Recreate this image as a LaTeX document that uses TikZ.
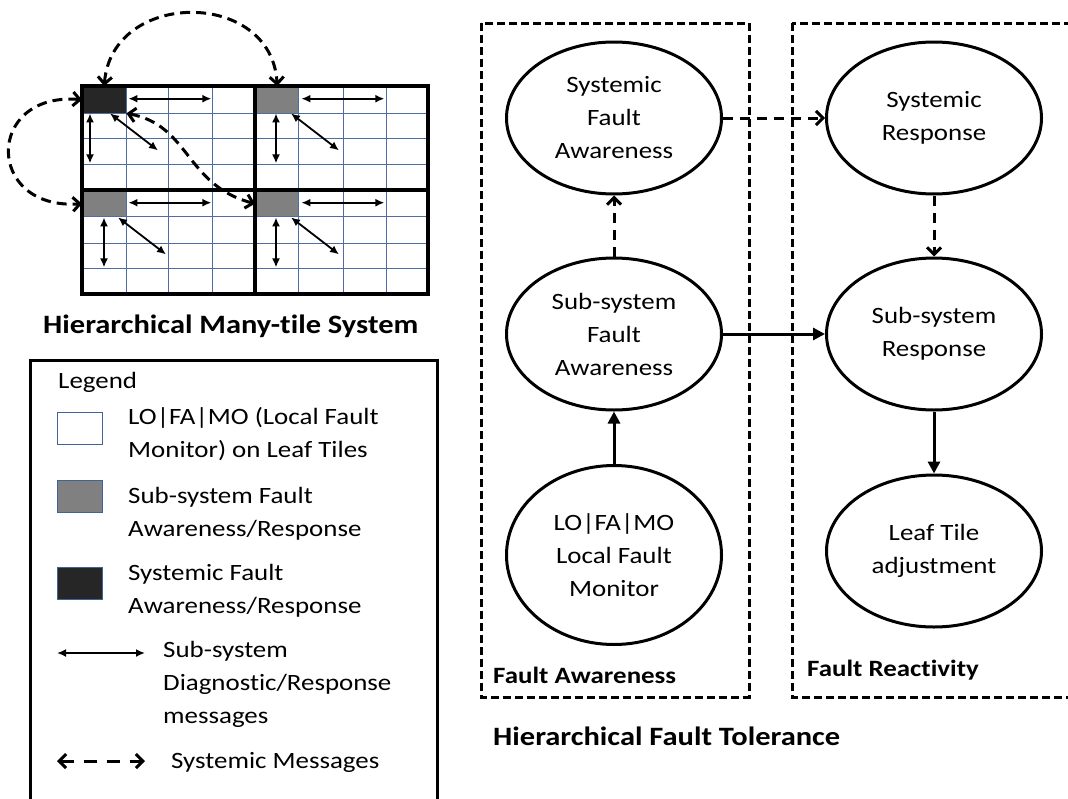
\documentclass[tikz,border=0pt]{standalone}
\usepackage{fontspec}
\setmainfont{Carlito}[FakeStretch=1.15,Ligatures=NoCommon]
\usetikzlibrary{arrows.meta,shapes.geometric}
\definecolor{tileblue}{RGB}{79,109,160}
\definecolor{hubgray}{RGB}{128,128,128}
\definecolor{hubdark}{RGB}{38,38,38}
\definecolor{hubedge}{RGB}{65,100,150}
\begin{document}
\begin{tikzpicture}[x=1pt,y=-1pt,
    every node/.style={font=\fontsize{23.4}{33}\selectfont,inner sep=0pt},
    bubble/.style={draw,ellipse,line width=3pt,minimum width=215pt,minimum height=152pt,align=center},
    msg/.style={line width=1.8pt,{Latex[length=9pt,width=8pt]}-{Latex[length=9pt,width=8pt]}},
    sysmsg/.style={line width=3pt,dash pattern=on 10pt off 6pt,{Straight Barb[length=7pt,width=14pt]}-{Straight Barb[length=7pt,width=14pt]}},
    flow/.style={line width=3pt,-{Triangle[length=12pt,width=12pt]}},
    sysflow/.style={line width=3pt,dash pattern=on 10pt off 7pt,-{Straight Barb[length=7pt,width=14pt]}},
    zone/.style={line width=3pt,dash pattern=on 8pt off 4pt},
    hub/.style={minimum width=44pt,minimum height=27pt,anchor=north west},
    keybox/.style={draw=hubedge,line width=1pt,minimum width=45pt,minimum height=32pt,anchor=north west},
    heading/.style={font=\fontsize{26.5}{33}\selectfont\bfseries,anchor=base west},
    zonelabel/.style={font=\fontsize{23.4}{33}\selectfont\bfseries,anchor=base west}]
    \useasboundingbox (0,0) rectangle (1068,798);

    % many-tile grid
    \node[hub,fill=hubdark] (hubTL) at (82,86) {};
    \node[hub,fill=hubgray] (hubTR) at (255,86) {};
    \node[hub,fill=hubgray] (hubBL) at (82,190) {};
    \node[hub,fill=hubgray] (hubBR) at (255,190) {};
    \foreach \x in {126,168,212,298,343,386}
        \draw[tileblue,line width=1pt] (\x,86) -- (\x,294);
    \foreach \y in {113,138,164,216,243,268}
        \draw[tileblue,line width=1pt] (82,\y) -- (428,\y);
    \draw[line width=4pt] (82,86) rectangle (428,294);
    \draw[line width=4pt] (255,86) -- (255,294) (82,190) -- (428,190);
    \foreach \h/\v/\d in {hubTL/8/28,hubTR/21/36,hubBL/22/36,hubBR/21/36} {
        \draw[msg] ([xshift=2pt,yshift=1pt]\h.east) -- ++(83,0);
        \draw[msg] ([xshift=\v pt]\h.south west) -- ++(0,50);
        \draw[msg] ([xshift=\d pt]\h.south west) -- ++(48,37);
    }
    \draw[sysmsg] (hubTL.north) .. controls (112,-11) and (272,-11) .. (hubTR.north);
    \draw[sysmsg] (hubTL.west) .. controls (-15,92) and (-15,210) .. (hubBL.west);
    \draw[sysmsg] (hubTL.south east) .. controls (190,125) and (185,185) .. (hubBR.west);
    \node[heading] (gridTitle) at (43,333) {Hierarchical Many-tile System};

    % legend
    \draw[line width=3pt] (30,360) rectangle (437,812);
    \node[anchor=base west] (legendTitle) at (58,388) {Legend};
    \node[keybox] (keyTile) at (57,412) {};
    \node[keybox,fill=hubgray] (keySub) at (57,480) {};
    \node[keybox,fill=hubdark] (keySys) at (57,567) {};
    \node[anchor=base west,align=left] (keyTileText) at (128,457) {LO|FA|MO (Local Fault\\Monitor) on Leaf Tiles};
    \node[anchor=base west,align=left] (keySubText) at (128,536) {Sub-system Fault\\Awareness/Response};
    \node[anchor=base west,align=left] (keySysText) at (128,613) {Systemic Fault\\Awareness/Response};
    \coordinate (msgL) at (57,653);
    \coordinate (msgR) at (145,653);
    \draw[msg] (msgL) -- (msgR);
    \node[anchor=base west,align=left] (keyMsgText) at (163,723) {Sub-system\\Diagnostic/Response\\messages};
    \coordinate (sysL) at (57,761);
    \coordinate (sysR) at (145,761);
    \draw[sysmsg,dash pattern=on 13pt off 10pt] (sysL) -- (sysR);
    \node[anchor=base west] (keySysMsgText) at (171,768) {Systemic Messages};

    % hierarchical fault tolerance
    \draw[zone] (481,23) rectangle (749,697);
    \draw[zone] (792,23) rectangle (1080,697);
    \node[bubble] (sysAware) at (614,118) {Systemic\\Fault\\Awareness};
    \node[bubble] (sysResp) at (934,118) {Systemic\\Response};
    \node[bubble] (subAware) at (614,334) {Sub-system\\Fault\\Awareness};
    \node[bubble] (subResp) at (934,334) {Sub-system\\Response};
    \node[bubble,minimum height=179pt] (localMon) at (614,555) {LO|FA|MO\\Local Fault\\Monitor};
    \node[bubble] (leafAdj) at (934,551) {Leaf Tile\\adjustment};
    \draw[sysflow] (sysAware) -- (sysResp);
    \draw[sysflow] (subAware) -- (sysAware);
    \draw[sysflow] (sysResp) -- (subResp);
    \draw[flow] (subAware) -- (subResp);
    \draw[flow] (localMon) -- (subAware);
    \draw[flow] (subResp) -- (leafAdj);
    \node[zonelabel] (awareLabel) at (493,683) {Fault Awareness};
    \node[zonelabel] (reactLabel) at (807,676) {Fault Reactivity};
    \node[heading] (hftTitle) at (493,745) {Hierarchical Fault Tolerance};
\end{tikzpicture}
\end{document}
